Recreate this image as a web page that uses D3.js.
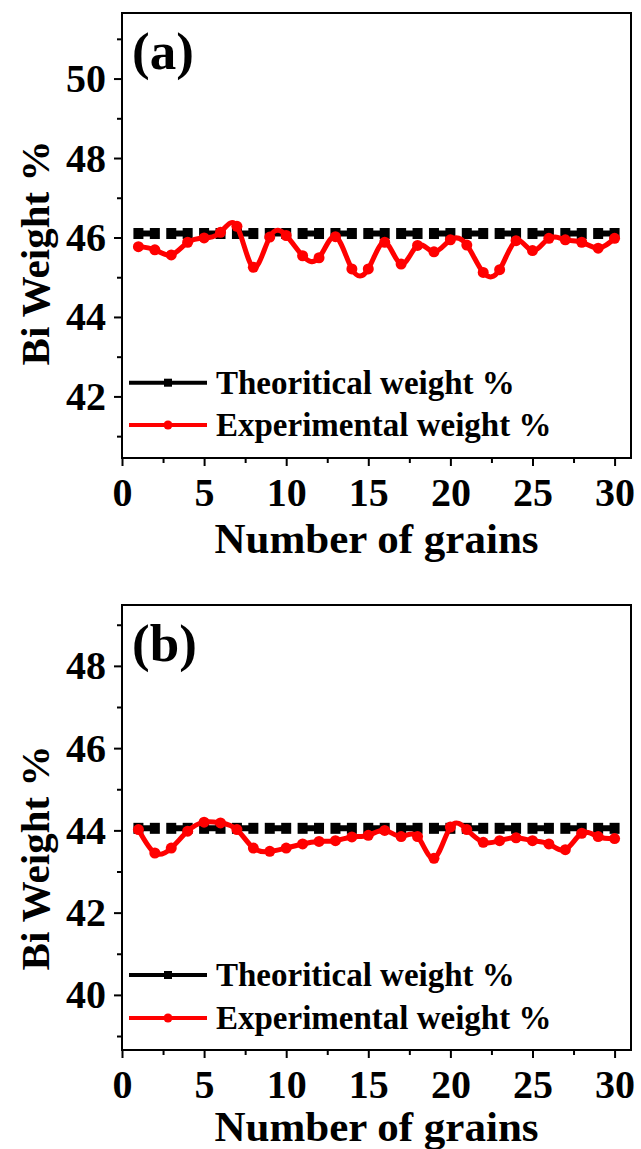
<!DOCTYPE html>
<html>
<head>
<meta charset="utf-8">
<script src="https://cdn.jsdelivr.net/npm/d3@7"></script>
<style>
  html, body { margin: 0; padding: 0; background: #fff; }
  svg { display: block; }
  text { font-family: "Liberation Serif", "Times New Roman", serif; font-weight: bold; fill: #000; }
</style>
</head>
<body>
<svg id="viz" width="641" height="1149"></svg>
<script>
// grain index (x)
const grains = [1, 2, 3, 4, 5, 6, 7, 8, 9, 10, 11, 12, 13, 14, 15,
                16, 17, 18, 19, 20, 21, 22, 23, 24, 25, 26, 27, 28, 29, 30];

// panel (a)
const theoreticalA = 46.1;
const experimentalA = [45.77, 45.69, 45.56, 45.88, 45.99, 46.13, 46.28, 45.25, 46.01, 46.05,
                       45.54, 45.49, 46.02, 45.21, 45.21, 45.88, 45.33, 45.80, 45.64, 45.94,
                       45.81, 45.12, 45.19, 45.92, 45.67, 45.98, 45.94, 45.88, 45.73, 45.98];
const yTicksA = [42, 44, 46, 48, 50];
const yMinorA = [41, 43, 45, 47, 49, 51];

// panel (b)
const theoreticalB = 44.05;
const experimentalB = [44.02, 43.45, 43.57, 43.98, 44.20, 44.18, 44.02, 43.57, 43.49, 43.57,
                       43.67, 43.73, 43.75, 43.84, 43.88, 44.00, 43.85, 43.85, 43.32, 44.08,
                       44.02, 43.71, 43.75, 43.82, 43.75, 43.67, 43.53, 43.93, 43.85, 43.80];
const yTicksB = [40, 42, 44, 46, 48];
const yMinorB = [39, 41, 43, 45, 47, 49];

const xTicks = [0, 5, 10, 15, 20, 25, 30];
const xMinor = [2.5, 7.5, 12.5, 17.5, 22.5, 27.5];
const legendLabels = ['Theoritical weight %', 'Experimental weight %'];

const svg = d3.select('#viz');

function drawPanel(p) {
  const x = d3.scaleLinear().domain([0, 31]).range([p.left, p.right]);
  const y = d3.scaleLinear().domain(p.yDomain).range([p.bottom, p.top]);
  const g = svg.append('g');

  // axes: ticks point outward
  const xAxis = g.append('g').attr('transform', `translate(0,${p.bottom})`)
    .call(d3.axisBottom(x).tickValues(xTicks).tickSize(8).tickSizeOuter(0).tickFormat(d3.format('d')));
  g.append('g').attr('transform', `translate(0,${p.bottom})`)
    .call(d3.axisBottom(x).tickValues(xMinor).tickSize(5).tickSizeOuter(0).tickFormat(''));
  const yAxis = g.append('g').attr('transform', `translate(${p.left},0)`)
    .call(d3.axisLeft(y).tickValues(p.yTicks).tickSize(8).tickSizeOuter(0).tickFormat(d3.format('d')));
  g.append('g').attr('transform', `translate(${p.left},0)`)
    .call(d3.axisLeft(y).tickValues(p.yMinor).tickSize(5).tickSizeOuter(0).tickFormat(''));
  g.selectAll('.domain').remove();
  g.selectAll('.tick line').attr('stroke', '#000').attr('stroke-width', 2);
  xAxis.selectAll('text').attr('y', 48).attr('dy', 0).style('font-size', '40px');
  yAxis.selectAll('text').attr('x', -16).attr('dy', 13).style('font-size', '40px');

  // frame
  g.append('rect').attr('x', p.left).attr('y', p.top)
    .attr('width', p.right - p.left).attr('height', p.bottom - p.top)
    .attr('fill', 'none').attr('stroke', '#000').attr('stroke-width', 2);

  // theoretical line: dashed with square markers
  const step = x(2) - x(1);
  const theo = grains.map(d => [d, p.theoretical]);
  g.append('path').datum(theo)
    .attr('d', d3.line().x(d => x(d[0])).y(d => y(d[1])))
    .attr('fill', 'none').attr('stroke', '#000').attr('stroke-width', 6)
    .attr('stroke-dasharray', `${step},${step}`);
  g.selectAll('.sq').data(theo).enter().append('rect')
    .attr('x', d => x(d[0]) - 5).attr('y', d => y(d[1]) - 5.5)
    .attr('width', 10).attr('height', 11).attr('fill', '#000');

  // experimental line: spline with circles
  const exp = grains.map((d, i) => [d, p.experimental[i]]);
  g.append('path').datum(exp)
    .attr('d', d3.line().x(d => x(d[0])).y(d => y(d[1])).curve(d3.curveNatural))
    .attr('fill', 'none').attr('stroke', '#ff0000').attr('stroke-width', 5);
  g.selectAll('.pt').data(exp).enter().append('circle')
    .attr('cx', d => x(d[0])).attr('cy', d => y(d[1])).attr('r', 5.5).attr('fill', '#ff0000');

  // panel label
  g.append('text').attr('x', p.left + 10).attr('y', p.top + 56)
    .style('font-size', '53px').text(p.label);

  // legend
  const leg = g.append('g');
  [['#000', 'square'], ['#ff0000', 'circle']].forEach((s, i) => {
    const ly = p.legendY[i];
    leg.append('line').attr('x1', 129).attr('x2', 207).attr('y1', ly).attr('y2', ly)
      .attr('stroke', s[0]).attr('stroke-width', 4);
    if (s[1] === 'square') {
      leg.append('rect').attr('x', 164).attr('y', ly - 4).attr('width', 8).attr('height', 8).attr('fill', s[0]);
    } else {
      leg.append('circle').attr('cx', 168).attr('cy', ly).attr('r', 4.5).attr('fill', s[0]);
    }
    leg.append('text').attr('x', 216).attr('y', ly + 11).style('font-size', '33px').text(legendLabels[i]);
  });

  // axis titles
  g.append('text').attr('x', (p.left + p.right) / 2).attr('y', p.xTitleY)
    .attr('text-anchor', 'middle').style('font-size', '43px').text('Number of grains');
  g.append('text').attr('transform', `translate(49,${p.yTitleY}) rotate(-90)`)
    .attr('text-anchor', 'middle').style('font-size', '41px').text('Bi Weight %');
}

drawPanel({
  label: '(a)', left: 122, right: 631, top: 13, bottom: 458,
  yDomain: [40.45, 51.65], yTicks: yTicksA, yMinor: yMinorA,
  theoretical: theoreticalA, experimental: experimentalA,
  legendY: [382.7, 425], xTitleY: 553, yTitleY: 253
});

drawPanel({
  label: '(b)', left: 122, right: 631, top: 605, bottom: 1050,
  yDomain: [38.66, 49.48], yTicks: yTicksB, yMinor: yMinorB,
  theoretical: theoreticalB, experimental: experimentalB,
  legendY: [975, 1018], xTitleY: 1141, yTitleY: 858
});
</script>
</body>
</html>
